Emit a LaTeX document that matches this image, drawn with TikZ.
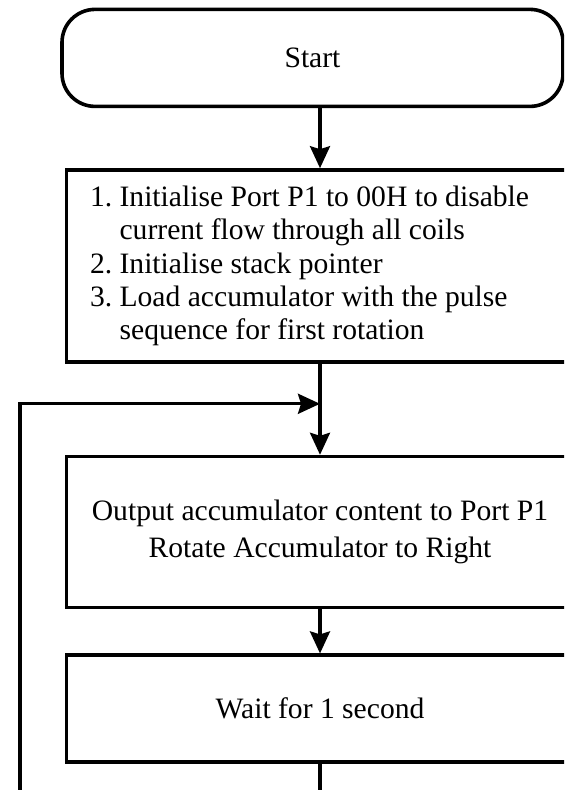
\documentclass[tikz,border=0pt]{standalone}
\usepackage{fontspec}
\setmainfont{Liberation Serif}
\usetikzlibrary{arrows.meta,positioning}
\frenchspacing
\newcommand{\flowfont}{\fontsize{14.8pt}{16.7pt}\selectfont}
\tikzset{
  flowline/.style={line width=1.6pt,draw=black},
  flowarrow/.style={flowline,-{Stealth[length=11pt,width=10pt,inset=1.5pt]}},
  terminal/.style={draw=black,line width=1.8pt,rounded corners=16.5pt,minimum width=250.5pt,minimum height=48.5pt,font=\flowfont},
  process/.style={draw=black,line width=1.8pt,minimum width=253.5pt,inner sep=0pt,font=\flowfont}
}

\begin{document}
\begin{tikzpicture}
  \useasboundingbox (0,0) rectangle (282pt,-395pt);
  \clip (0,0) rectangle (282pt,-395pt);

  \node[process,minimum height=96pt,text width=230pt,align=flush left] (init) at (160pt,-133pt)
    {1. Initialise Port P1 to 00H to disable\\\hphantom{1.\ }current flow through all coils\\2. Initialise stack pointer\\3. Load accumulator with the pulse\\\hphantom{1.\ }sequence for first rotation};
  \node[terminal,above=30pt of init,xshift=-3.75pt] (start) {Start};
  \node[process,minimum height=75.5pt,align=center,below=45.5pt of init] (output) {Output accumulator content to Port P1\\[1.5pt]Rotate Accumulator to Right};
  \node[process,minimum height=53.5pt,below=22pt of output] (wait) {Wait for 1 second};

  \coordinate[below=20pt of init.south] (merge);
  \coordinate[left=150pt of merge] (loopcorner);

  \draw[flowarrow] (start.south -| init) -- (init);
  \draw[flowline] (init) -- (merge);
  \draw[flowarrow] (merge) -- (output);
  \draw[flowarrow] (output) -- (wait);
  \draw[flowarrow] (wait.south) -- ++(0,-25pt) -| (loopcorner) -- (merge);
\end{tikzpicture}
\end{document}
